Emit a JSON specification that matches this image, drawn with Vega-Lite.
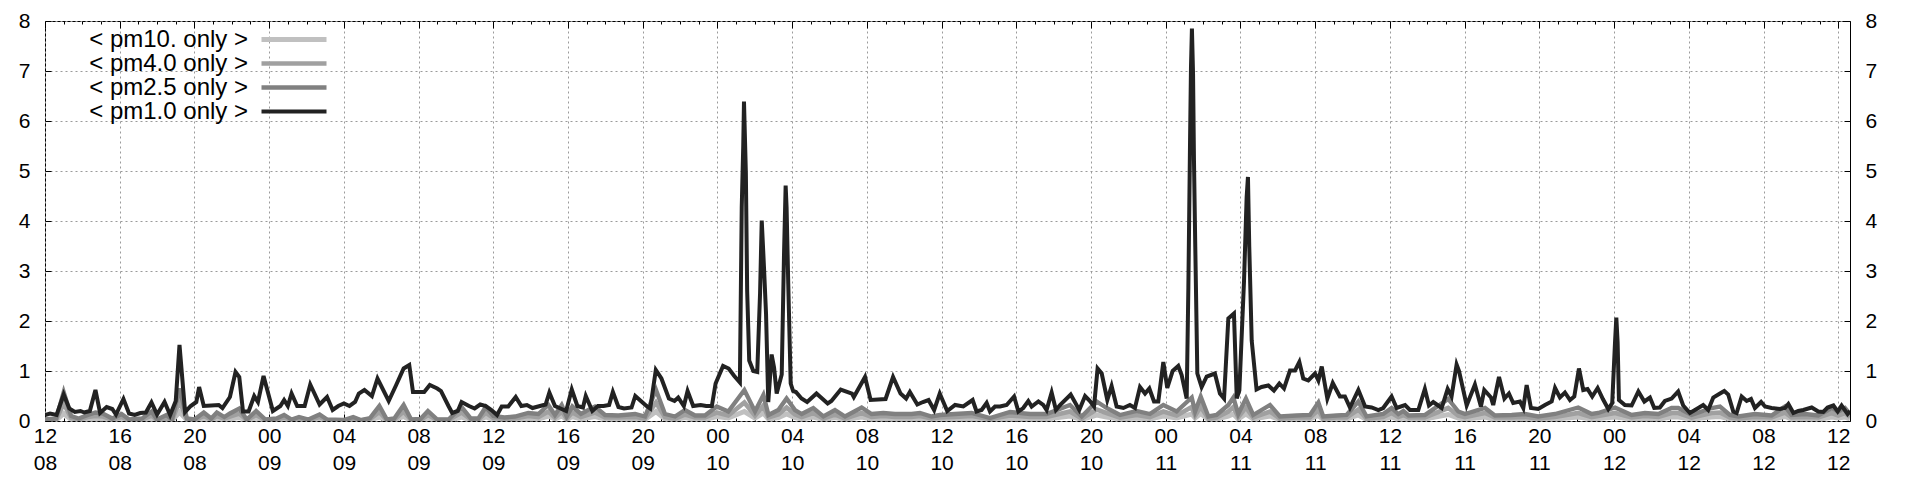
{
"$schema": "https://vega.github.io/schema/vega-lite/v6.json",
"width": 1805, "height": 400,
"autosize": "none",
"padding": {"left": 45, "top": 21, "right": 70, "bottom": 59},
"background": "white",
"config": {"view": {"stroke": "black", "strokeWidth": 1}, "font": "Liberation Sans"},
"data": {"values": [
{"h":0,"a":0.12},{"h":0.27,"a":0.15},{"h":0.62,"a":0.12},{"h":1.0,"a":0.53},{"h":1.3,"a":0.25},{"h":1.6,"a":0.18},{"h":1.9,"a":0.2},{"h":2.1,"a":0.17},{"h":2.4,"a":0.2},{"h":2.7,"a":0.62},{"h":2.95,"a":0.16},{"h":3.3,"a":0.28},{"h":3.6,"a":0.24},{"h":3.8,"a":0.13},{"h":4.2,"a":0.44},{"h":4.5,"a":0.15},{"h":4.8,"a":0.12},{"h":5.1,"a":0.16},{"h":5.4,"a":0.17},{"h":5.7,"a":0.37},{"h":6.0,"a":0.13},{"h":6.4,"a":0.38},{"h":6.7,"a":0.12},{"h":7.0,"a":0.4},{"h":7.2,"a":1.52},{"h":7.5,"a":0.18},{"h":7.8,"a":0.3},{"h":8.1,"a":0.38},{"h":8.25,"a":0.68},{"h":8.5,"a":0.3},{"h":8.9,"a":0.31},{"h":9.3,"a":0.32},{"h":9.5,"a":0.26},{"h":9.9,"a":0.48},{"h":10.2,"a":0.98},{"h":10.4,"a":0.88},{"h":10.6,"a":0.19},{"h":10.9,"a":0.19},{"h":11.2,"a":0.5},{"h":11.4,"a":0.38},{"h":11.7,"a":0.9},{"h":12.2,"a":0.2},{"h":12.6,"a":0.3},{"h":12.8,"a":0.42},{"h":13.0,"a":0.3},{"h":13.2,"a":0.55},{"h":13.5,"a":0.3},{"h":13.9,"a":0.3},{"h":14.2,"a":0.73},{"h":14.7,"a":0.33},{"h":15.1,"a":0.48},{"h":15.4,"a":0.22},{"h":15.7,"a":0.3},{"h":16.0,"a":0.35},{"h":16.3,"a":0.3},{"h":16.6,"a":0.38},{"h":16.8,"a":0.55},{"h":17.1,"a":0.62},{"h":17.5,"a":0.5},{"h":17.8,"a":0.85},{"h":18.4,"a":0.4},{"h":18.8,"a":0.72},{"h":19.2,"a":1.05},{"h":19.5,"a":1.12},{"h":19.7,"a":0.58},{"h":20.0,"a":0.58},{"h":20.3,"a":0.58},{"h":20.6,"a":0.72},{"h":21.0,"a":0.65},{"h":21.2,"a":0.6},{"h":21.6,"a":0.3},{"h":21.8,"a":0.16},{"h":22.1,"a":0.2},{"h":22.3,"a":0.38},{"h":22.7,"a":0.3},{"h":23.0,"a":0.25},{"h":23.3,"a":0.33},{"h":23.6,"a":0.3},{"h":23.9,"a":0.22},{"h":24.2,"a":0.12},
{"h":24.45,"a":0.29},{"h":24.8,"a":0.29},{"h":25.2,"a":0.48},{"h":25.5,"a":0.3},{"h":25.8,"a":0.32},{"h":26.1,"a":0.26},{"h":26.5,"a":0.3},{"h":26.8,"a":0.33},{"h":27.0,"a":0.57},{"h":27.3,"a":0.3},{"h":27.6,"a":0.25},{"h":27.9,"a":0.2},{"h":28.2,"a":0.63},{"h":28.5,"a":0.3},{"h":28.8,"a":0.27},{"h":28.95,"a":0.5},{"h":29.3,"a":0.2},{"h":29.6,"a":0.3},{"h":29.9,"a":0.3},{"h":30.2,"a":0.32},{"h":30.4,"a":0.58},{"h":30.7,"a":0.28},{"h":31.0,"a":0.25},{"h":31.4,"a":0.27},{"h":31.6,"a":0.5},{"h":31.9,"a":0.4},{"h":32.2,"a":0.3},{"h":32.4,"a":0.25},{"h":32.7,"a":1.02},{"h":33.0,"a":0.85},{"h":33.4,"a":0.45},{"h":33.7,"a":0.4},{"h":33.9,"a":0.47},{"h":34.2,"a":0.3},{"h":34.4,"a":0.6},{"h":34.7,"a":0.3},{"h":35.1,"a":0.32},{"h":35.4,"a":0.3},{"h":35.7,"a":0.3},{"h":35.9,"a":0.75},{"h":36.3,"a":1.1},{"h":36.6,"a":1.05},{"h":36.9,"a":0.9},{"h":37.2,"a":0.77},
{"h":37.3,"a":4.28},{"h":37.38,"a":5.5},{"h":37.42,"a":6.39},{"h":37.52,"a":4.97},{"h":37.59,"a":2.6},{"h":37.7,"a":1.21},{"h":37.92,"a":1.0},{"h":38.13,"a":0.98},{"h":38.28,"a":2.55},{"h":38.37,"a":4.01},{"h":38.49,"a":3.08},{"h":38.6,"a":2.15},{"h":38.72,"a":0.38},{"h":38.9,"a":1.33},{"h":39.03,"a":1.07},{"h":39.17,"a":0.55},{"h":39.44,"a":0.93},{"h":39.56,"a":3.28},{"h":39.65,"a":4.71},{"h":39.7,"a":4.28},{"h":39.79,"a":2.74},{"h":39.92,"a":0.75},
{"h":40.05,"a":0.6},{"h":40.2,"a":0.58},{"h":40.5,"a":0.45},{"h":40.8,"a":0.38},{"h":41.3,"a":0.55},{"h":41.9,"a":0.35},{"h":42.1,"a":0.4},{"h":42.6,"a":0.63},{"h":43.2,"a":0.55},{"h":43.3,"a":0.48},{"h":43.9,"a":0.88},{"h":44.2,"a":0.42},{"h":44.6,"a":0.43},{"h":45.0,"a":0.44},{"h":45.4,"a":0.88},{"h":45.8,"a":0.55},{"h":46.1,"a":0.45},{"h":46.3,"a":0.58},{"h":46.7,"a":0.33},{"h":47.0,"a":0.38},{"h":47.3,"a":0.42},{"h":47.6,"a":0.22},{"h":47.9,"a":0.55},{"h":48.3,"a":0.2},
{"h":48.72,"a":0.32},{"h":49.16,"a":0.29},{"h":49.66,"a":0.42},{"h":49.87,"a":0.19},{"h":50.14,"a":0.22},{"h":50.41,"a":0.36},{"h":50.59,"a":0.19},{"h":50.86,"a":0.29},{"h":51.13,"a":0.29},{"h":51.48,"a":0.32},{"h":51.88,"a":0.49},{"h":52.11,"a":0.19},{"h":52.37,"a":0.26},{"h":52.64,"a":0.4},{"h":52.82,"a":0.29},{"h":53.18,"a":0.39},{"h":53.44,"a":0.32},{"h":53.62,"a":0.22},{"h":53.89,"a":0.57},{"h":54.12,"a":0.22},{"h":54.34,"a":0.32},{"h":54.91,"a":0.53},{"h":55.37,"a":0.22},{"h":55.68,"a":0.5},{"h":55.94,"a":0.4},{"h":56.16,"a":0.29},{"h":56.35,"a":1.05},{"h":56.57,"a":0.95},{"h":56.87,"a":0.42},{"h":57.1,"a":0.7},{"h":57.37,"a":0.29},{"h":57.73,"a":0.26},{"h":58.08,"a":0.32},{"h":58.35,"a":0.26},{"h":58.62,"a":0.68},{"h":58.89,"a":0.55},{"h":59.12,"a":0.65},{"h":59.37,"a":0.39},{"h":59.6,"a":0.39},{"h":59.87,"a":1.18},{"h":60.08,"a":0.66},{"h":60.37,"a":1.0},{"h":60.67,"a":1.1},{"h":60.85,"a":0.92},{"h":61.12,"a":0.45},
{"h":61.21,"a":2.68},{"h":61.3,"a":5.61},{"h":61.35,"a":7.08},{"h":61.4,"a":7.85},{"h":61.46,"a":6.95},{"h":61.51,"a":5.21},{"h":61.58,"a":3.48},{"h":61.69,"a":0.95},{"h":61.92,"a":0.68},{"h":62.19,"a":0.89},{"h":62.63,"a":0.95},{"h":62.9,"a":0.55},{"h":63.12,"a":0.45},{"h":63.35,"a":2.05},{"h":63.65,"a":2.15},{"h":63.8,"a":0.45},{"h":63.94,"a":0.61},{"h":64.19,"a":2.81},{"h":64.33,"a":4.48},{"h":64.4,"a":4.88},{"h":64.47,"a":3.48},{"h":64.6,"a":1.61},{"h":64.86,"a":0.63},{"h":65.13,"a":0.68},{"h":65.49,"a":0.71},{"h":65.79,"a":0.61},{"h":66.08,"a":0.75},{"h":66.33,"a":0.65},{"h":66.65,"a":1.01},{"h":66.92,"a":1.01},{"h":67.15,"a":1.18},{"h":67.36,"a":0.85},{"h":67.63,"a":0.81},{"h":67.99,"a":0.95},{"h":68.17,"a":0.81},{"h":68.35,"a":1.09},{"h":68.65,"a":0.45},{"h":68.94,"a":0.76},{"h":69.32,"a":0.49},{"h":69.59,"a":0.49},{"h":69.86,"a":0.27},{"h":70.31,"a":0.62},{"h":70.67,"a":0.29},{"h":71.02,"a":0.27},{"h":71.38,"a":0.22},{"h":71.64,"a":0.26},{"h":72.09,"a":0.49},{"h":72.36,"a":0.26},{"h":72.81,"a":0.32},
{"h":73.07,"a":0.22},{"h":73.52,"a":0.22},{"h":73.87,"a":0.64},{"h":74.09,"a":0.31},{"h":74.32,"a":0.38},{"h":74.77,"a":0.26},{"h":75.09,"a":0.64},{"h":75.3,"a":0.49},{"h":75.57,"a":1.13},{"h":75.7,"a":1.0},{"h":76.11,"a":0.31},{"h":76.55,"a":0.73},{"h":76.87,"a":0.29},{"h":77.05,"a":0.62},{"h":77.41,"a":0.47},{"h":77.53,"a":0.32},{"h":77.84,"a":0.88},{"h":78.13,"a":0.45},{"h":78.37,"a":0.55},{"h":78.6,"a":0.36},{"h":78.96,"a":0.39},{"h":79.14,"a":0.26},{"h":79.32,"a":0.72},{"h":79.55,"a":0.26},{"h":79.94,"a":0.24},{"h":80.3,"a":0.32},{"h":80.66,"a":0.39},{"h":80.84,"a":0.66},{"h":81.1,"a":0.47},{"h":81.37,"a":0.57},{"h":81.64,"a":0.42},{"h":81.87,"a":0.49},{"h":82.12,"a":1.05},{"h":82.35,"a":0.62},{"h":82.58,"a":0.64},{"h":82.83,"a":0.49},{"h":83.12,"a":0.66},{"h":83.4,"a":0.44},{"h":83.69,"a":0.24},{"h":83.9,"a":0.36},{"h":84.05,"a":1.57},{"h":84.12,"a":2.07},{"h":84.19,"a":1.57},{"h":84.26,"a":0.42},{"h":84.58,"a":0.32},{"h":84.94,"a":0.31},{"h":85.3,"a":0.59},{"h":85.62,"a":0.39},{"h":85.92,"a":0.47},{"h":86.15,"a":0.26},{"h":86.45,"a":0.27},{"h":86.72,"a":0.4},{"h":87.08,"a":0.45},{"h":87.43,"a":0.59},{"h":87.7,"a":0.31},{"h":88.06,"a":0.16},{"h":88.51,"a":0.26},{"h":88.77,"a":0.32},{"h":89.04,"a":0.22},{"h":89.31,"a":0.47},{"h":89.67,"a":0.55},{"h":89.9,"a":0.6},{"h":90.11,"a":0.53},{"h":90.38,"a":0.19},{"h":90.56,"a":0.16},{"h":90.83,"a":0.49},{"h":91.1,"a":0.4},{"h":91.33,"a":0.44},{"h":91.54,"a":0.26},{"h":91.87,"a":0.38},{"h":92.08,"a":0.29},{"h":92.43,"a":0.26},{"h":92.88,"a":0.24},{"h":93.15,"a":0.26},{"h":93.33,"a":0.34},{"h":93.6,"a":0.16},{"h":93.86,"a":0.2},{"h":94.13,"a":0.22},{"h":94.58,"a":0.27},{"h":94.93,"a":0.19},{"h":95.2,"a":0.18},{"h":95.43,"a":0.27},{"h":95.74,"a":0.31},{"h":95.97,"a":0.19},{"h":96.18,"a":0.31},{"h":96.5,"a":0.14},{"h":96.63,"a":0.2},
{"h":0,"b":0.03,"c":0.02,"d":0.01},{"h":0.6,"b":0.05,"c":0.03,"d":0.02},{"h":1.0,"b":0.58,"c":0.35,"d":0.15},{"h":1.4,"b":0.1,"c":0.06,"d":0.03},{"h":1.8,"b":0.05,"c":0.03,"d":0.02},{"h":2.3,"b":0.12,"c":0.08,"d":0.04},{"h":2.7,"b":0.17,"c":0.1,"d":0.05},{"h":3.1,"b":0.15,"c":0.09,"d":0.04},{"h":3.6,"b":0.05,"c":0.03,"d":0.02},{"h":4.1,"b":0.14,"c":0.08,"d":0.04},{"h":4.5,"b":0.03,"c":0.02,"d":0.01},{"h":5.2,"b":0.05,"c":0.03,"d":0.02},{"h":5.7,"b":0.19,"c":0.11,"d":0.05},{"h":6.0,"b":0.03,"c":0.02,"d":0.01},{"h":6.5,"b":0.12,"c":0.07,"d":0.03},{"h":6.8,"b":0.03,"c":0.02,"d":0.01},{"h":7.2,"b":0.65,"c":0.4,"d":0.18},{"h":7.6,"b":0.05,"c":0.03,"d":0.02},{"h":8.0,"b":0.03,"c":0.02,"d":0.01},{"h":8.5,"b":0.17,"c":0.1,"d":0.05},{"h":8.9,"b":0.05,"c":0.03,"d":0.02},{"h":9.2,"b":0.17,"c":0.1,"d":0.05},{"h":9.6,"b":0.08,"c":0.05,"d":0.02},{"h":9.9,"b":0.15,"c":0.09,"d":0.04},{"h":10.4,"b":0.25,"c":0.15,"d":0.07},{"h":10.8,"b":0.03,"c":0.02,"d":0.01},{"h":11.3,"b":0.2,"c":0.12,"d":0.06},{"h":11.8,"b":0.03,"c":0.02,"d":0.01},{"h":12.4,"b":0.05,"c":0.03,"d":0.02},{"h":12.8,"b":0.12,"c":0.07,"d":0.03},{"h":13.2,"b":0.03,"c":0.02,"d":0.01},{"h":13.6,"b":0.08,"c":0.05,"d":0.02},{"h":14.1,"b":0.03,"c":0.02,"d":0.01},{"h":14.7,"b":0.13,"c":0.08,"d":0.04},{"h":15.1,"b":0.03,"c":0.02,"d":0.01},{"h":16.0,"b":0.02,"c":0.01,"d":0.01},{"h":16.5,"b":0.08,"c":0.05,"d":0.02},{"h":16.9,"b":0.02,"c":0.01,"d":0.01},{"h":17.4,"b":0.06,"c":0.04,"d":0.02},{"h":17.9,"b":0.3,"c":0.18,"d":0.08},{"h":18.3,"b":0.03,"c":0.02,"d":0.01},{"h":18.7,"b":0.05,"c":0.03,"d":0.02},{"h":19.2,"b":0.32,"c":0.19,"d":0.09},{"h":19.6,"b":0.03,"c":0.02,"d":0.01},{"h":20.1,"b":0.04,"c":0.02,"d":0.01},{"h":20.5,"b":0.2,"c":0.12,"d":0.06},{"h":21.0,"b":0.03,"c":0.02,"d":0.01},{"h":21.6,"b":0.03,"c":0.02,"d":0.01},{"h":22.3,"b":0.28,"c":0.17,"d":0.08},{"h":22.8,"b":0.05,"c":0.03,"d":0.02},{"h":23.2,"b":0.05,"c":0.03,"d":0.02},{"h":23.6,"b":0.28,"c":0.17,"d":0.08},{"h":24.0,"b":0.1,"c":0.06,"d":0.03},
{"h":24.6,"b":0.07,"c":0.04,"d":0.02},{"h":25.16,"b":0.09,"c":0.05,"d":0.03},{"h":25.87,"b":0.16,"c":0.1,"d":0.05},{"h":26.41,"b":0.14,"c":0.08,"d":0.04},{"h":26.95,"b":0.32,"c":0.19,"d":0.1},{"h":27.3,"b":0.12,"c":0.07,"d":0.04},{"h":27.66,"b":0.32,"c":0.19,"d":0.1},{"h":27.93,"b":0.09,"c":0.05,"d":0.03},{"h":28.23,"b":0.29,"c":0.17,"d":0.09},{"h":28.69,"b":0.14,"c":0.08,"d":0.04},{"h":29.44,"b":0.29,"c":0.17,"d":0.09},{"h":29.98,"b":0.12,"c":0.07,"d":0.04},{"h":30.69,"b":0.11,"c":0.07,"d":0.03},{"h":31.59,"b":0.14,"c":0.08,"d":0.04},{"h":32.12,"b":0.09,"c":0.05,"d":0.03},{"h":32.71,"b":0.62,"c":0.37,"d":0.19},{"h":33.19,"b":0.14,"c":0.08,"d":0.04},{"h":33.73,"b":0.09,"c":0.05,"d":0.03},{"h":34.26,"b":0.22,"c":0.13,"d":0.07},{"h":34.8,"b":0.11,"c":0.07,"d":0.03},{"h":35.33,"b":0.11,"c":0.07,"d":0.03},{"h":35.96,"b":0.29,"c":0.17,"d":0.09},{"h":36.58,"b":0.19,"c":0.11,"d":0.06},{"h":37.44,"b":0.62,"c":0.37,"d":0.19},{"h":38.01,"b":0.19,"c":0.11,"d":0.06},{"h":38.46,"b":0.52,"c":0.31,"d":0.16},{"h":38.73,"b":0.12,"c":0.07,"d":0.04},{"h":39.26,"b":0.22,"c":0.13,"d":0.07},{"h":39.7,"b":0.45,"c":0.27,"d":0.14},{"h":40.15,"b":0.22,"c":0.13,"d":0.07},{"h":40.51,"b":0.14,"c":0.08,"d":0.04},{"h":41.13,"b":0.26,"c":0.16,"d":0.08},{"h":41.67,"b":0.09,"c":0.05,"d":0.03},{"h":42.29,"b":0.22,"c":0.13,"d":0.07},{"h":42.83,"b":0.09,"c":0.05,"d":0.03},{"h":43.72,"b":0.27,"c":0.16,"d":0.08},{"h":44.25,"b":0.14,"c":0.08,"d":0.04},{"h":44.88,"b":0.16,"c":0.1,"d":0.05},{"h":45.5,"b":0.14,"c":0.08,"d":0.04},{"h":46.39,"b":0.14,"c":0.08,"d":0.04},{"h":46.84,"b":0.16,"c":0.1,"d":0.05},{"h":47.46,"b":0.09,"c":0.05,"d":0.03},{"h":47.91,"b":0.12,"c":0.07,"d":0.04},{"h":48.71,"b":0.14,"c":0.08,"d":0.04},
{"h":49.61,"b":0.16,"c":0.1,"d":0.05},{"h":50.59,"b":0.06,"c":0.04,"d":0.02},{"h":51.66,"b":0.18,"c":0.11,"d":0.05},{"h":52.73,"b":0.14,"c":0.08,"d":0.04},{"h":53.62,"b":0.14,"c":0.08,"d":0.04},{"h":54.87,"b":0.32,"c":0.19,"d":0.1},{"h":55.5,"b":0.09,"c":0.05,"d":0.03},{"h":56.3,"b":0.39,"c":0.23,"d":0.12},{"h":56.83,"b":0.26,"c":0.16,"d":0.08},{"h":57.55,"b":0.12,"c":0.07,"d":0.04},{"h":58.44,"b":0.2,"c":0.12,"d":0.06},{"h":59.15,"b":0.14,"c":0.08,"d":0.04},{"h":59.87,"b":0.32,"c":0.19,"d":0.1},{"h":60.58,"b":0.19,"c":0.11,"d":0.06},{"h":61.39,"b":0.47,"c":0.28,"d":0.14},{"h":61.57,"b":0.19,"c":0.11,"d":0.06},{"h":61.87,"b":0.49,"c":0.29,"d":0.15},{"h":62.28,"b":0.09,"c":0.05,"d":0.03},{"h":62.72,"b":0.12,"c":0.07,"d":0.04},{"h":63.35,"b":0.32,"c":0.19,"d":0.1},{"h":63.62,"b":0.47,"c":0.28,"d":0.14},{"h":63.88,"b":0.14,"c":0.08,"d":0.04},{"h":64.29,"b":0.45,"c":0.27,"d":0.14},{"h":64.68,"b":0.12,"c":0.07,"d":0.04},{"h":65.58,"b":0.32,"c":0.19,"d":0.1},{"h":66.11,"b":0.09,"c":0.05,"d":0.03},{"h":67.0,"b":0.11,"c":0.07,"d":0.03},{"h":67.72,"b":0.12,"c":0.07,"d":0.04},{"h":68.17,"b":0.37,"c":0.22,"d":0.11},{"h":68.43,"b":0.09,"c":0.05,"d":0.03},{"h":69.14,"b":0.11,"c":0.07,"d":0.03},{"h":69.68,"b":0.12,"c":0.07,"d":0.04},{"h":70.31,"b":0.39,"c":0.23,"d":0.12},{"h":70.75,"b":0.09,"c":0.05,"d":0.03},{"h":71.64,"b":0.14,"c":0.08,"d":0.04},{"h":72.09,"b":0.26,"c":0.16,"d":0.08},{"h":72.45,"b":0.14,"c":0.08,"d":0.04},{"h":72.72,"b":0.2,"c":0.12,"d":0.06},
{"h":73.0,"b":0.11,"c":0.07,"d":0.03},{"h":73.87,"b":0.12,"c":0.07,"d":0.04},{"h":75.12,"b":0.44,"c":0.26,"d":0.13},{"h":75.66,"b":0.19,"c":0.11,"d":0.06},{"h":76.02,"b":0.14,"c":0.08,"d":0.04},{"h":77.09,"b":0.26,"c":0.16,"d":0.08},{"h":77.62,"b":0.11,"c":0.07,"d":0.03},{"h":78.52,"b":0.12,"c":0.07,"d":0.04},{"h":79.23,"b":0.14,"c":0.08,"d":0.04},{"h":79.94,"b":0.09,"c":0.05,"d":0.03},{"h":80.84,"b":0.14,"c":0.08,"d":0.04},{"h":82.08,"b":0.27,"c":0.16,"d":0.08},{"h":82.8,"b":0.14,"c":0.08,"d":0.04},{"h":83.15,"b":0.16,"c":0.1,"d":0.05},{"h":84.05,"b":0.27,"c":0.16,"d":0.08},{"h":84.94,"b":0.12,"c":0.07,"d":0.04},{"h":85.65,"b":0.16,"c":0.1,"d":0.05},{"h":86.37,"b":0.14,"c":0.08,"d":0.04},{"h":87.08,"b":0.26,"c":0.16,"d":0.08},{"h":87.44,"b":0.26,"c":0.16,"d":0.08},{"h":88.15,"b":0.12,"c":0.07,"d":0.04},{"h":89.22,"b":0.26,"c":0.16,"d":0.08},{"h":89.67,"b":0.29,"c":0.17,"d":0.09},{"h":90.2,"b":0.12,"c":0.07,"d":0.04},{"h":90.65,"b":0.09,"c":0.05,"d":0.03},{"h":91.54,"b":0.14,"c":0.08,"d":0.04},{"h":92.43,"b":0.11,"c":0.07,"d":0.03},{"h":93.15,"b":0.29,"c":0.17,"d":0.09},{"h":93.5,"b":0.12,"c":0.07,"d":0.04},{"h":94.22,"b":0.14,"c":0.08,"d":0.04},{"h":94.93,"b":0.11,"c":0.07,"d":0.03},{"h":95.65,"b":0.26,"c":0.16,"d":0.08},{"h":96.0,"b":0.19,"c":0.11,"d":0.06},{"h":96.36,"b":0.26,"c":0.16,"d":0.08},{"h":96.63,"b":0.14,"c":0.08,"d":0.04}
]},
"transform": [{"fold": ["d","c","b","a"], "as": ["k","v"]}, {"filter": "isValid(datum.v)"}],
"encoding": {
  "x": {"field":"h","type":"quantitative","scale":{"domain":[0,96.63],"nice":false,"zero":false},"axis":null},
  "y": {"field":"v","type":"quantitative","scale":{"domain":[0,8],"nice":false,"zero":true},"axis":null},
  "color": {"field":"k","type":"nominal","scale":{"domain":["d","c","b","a"],"range":["#c0c0c0","#a0a0a0","#808080","#222222"]},
    "legend":{"title":null,"orient":"none","legendX":237,"legendY":6.5,"padding":0,"symbolType":"M-6.5,0H6.5","symbolSize":100,"labelAlign":"right","labelOffset":-58,"labelFontSize":24,"labelFont":"Liberation Sans","labelColor":"black","rowPadding":0,"labelExpr":"datum.value=='d'?'< pm10. only >':datum.value=='c'?'< pm4.0 only >':datum.value=='b'?'< pm2.5 only >':'< pm1.0 only >'"}},
  "strokeWidth": {"field":"k","type":"nominal","scale":{"domain":["d","c","b","a"],"range":[5,4,3,1.4]},
    "legend":{"title":null,"orient":"none","legendX":237,"legendY":6.5,"padding":0,"symbolType":"M-6.5,0H6.5","symbolSize":100,"labelAlign":"right","labelOffset":-58,"labelFontSize":24,"labelFont":"Liberation Sans","labelColor":"black","rowPadding":0,"labelExpr":"datum.value=='d'?'< pm10. only >':datum.value=='c'?'< pm4.0 only >':datum.value=='b'?'< pm2.5 only >':'< pm1.0 only >'"}}
},
"layer": [
  {"transform":[{"filter":"datum.k=='d'"}], "mark":{"type":"line","clip":true},
   "encoding":{
     "x":{"field":"h","type":"quantitative","scale":{"domain":[0,96.63],"nice":false,"zero":false},
       "axis":{"orient":"bottom","values":[0,1,2,3,4,5,6,7,8,9,10,11,12,13,14,15,16,17,18,19,20,21,22,23,24,25,26,27,28,29,30,31,32,33,34,35,36,37,38,39,40,41,42,43,44,45,46,47,48,49,50,51,52,53,54,55,56,57,58,59,60,61,62,63,64,65,66,67,68,69,70,71,72,73,74,75,76,77,78,79,80,81,82,83,84,85,86,87,88,89,90,91,92,93,94,95,96],
         "domain":false,"title":null,"grid":true,"gridColor":"#9a9a9a","gridDash":[2,3],"gridWidth":1,
         "gridOpacity":{"condition":{"test":"datum.value % 4 == 0","value":1},"value":0},
         "tickColor":"black","tickWidth":1,"tickSize":{"condition":{"test":"datum.value % 4 == 0","value":-7},"value":-3},
         "labelFont":"Liberation Sans","labelFontSize":21,"labelColor":"black","labelLineHeight":27,"labelPadding":11,
         "labelFlush":false,"labelOverlap":false,"labelBound":false,
         "labelExpr":"datum.value % 4 != 0 ? '' : [((12 + datum.value) % 24 < 10 ? '0' : '') + ((12 + datum.value) % 24), (floor((12 + datum.value) / 24) < 2 ? '0' : '') + (8 + floor((12 + datum.value) / 24))]"}},
     "y":{"field":"v","type":"quantitative","scale":{"domain":[0,8],"nice":false,"zero":true},
       "axis":{"orient":"left","values":[0,1,2,3,4,5,6,7,8],"domain":false,"title":null,"grid":true,"gridColor":"#9a9a9a","gridDash":[2,3],"gridWidth":1,
         "tickColor":"black","tickSize":-6,"labelFont":"Liberation Sans","labelFontSize":21,"labelColor":"black","labelPadding":21,"labelFlush":false,"labelOverlap":false,"labelBound":false}}
   }},
  {"transform":[{"filter":"datum.k=='c'"}], "mark":{"type":"line","clip":true}},
  {"transform":[{"filter":"datum.k=='b'"}], "mark":{"type":"line","clip":true}},
  {"transform":[{"filter":"datum.k=='a'"}], "mark":{"type":"line","clip":true},
   "encoding":{
     "x":{"field":"h","type":"quantitative","scale":{"domain":[0,96.63],"nice":false,"zero":false},
       "axis":{"orient":"top","values":[0,1,2,3,4,5,6,7,8,9,10,11,12,13,14,15,16,17,18,19,20,21,22,23,24,25,26,27,28,29,30,31,32,33,34,35,36,37,38,39,40,41,42,43,44,45,46,47,48,49,50,51,52,53,54,55,56,57,58,59,60,61,62,63,64,65,66,67,68,69,70,71,72,73,74,75,76,77,78,79,80,81,82,83,84,85,86,87,88,89,90,91,92,93,94,95,96],
         "domain":false,"title":null,"grid":false,"labels":false,"tickColor":"black","tickWidth":1,
         "tickSize":{"condition":{"test":"datum.value % 4 == 0","value":-7},"value":-3}}},
     "y":{"field":"v","type":"quantitative","scale":{"domain":[0,8],"nice":false,"zero":true},
       "axis":{"orient":"right","values":[0,1,2,3,4,5,6,7,8],"domain":false,"title":null,"grid":false,
         "tickColor":"black","tickSize":-6,"labelFont":"Liberation Sans","labelFontSize":21,"labelColor":"black","labelPadding":21,"labelFlush":false,"labelOverlap":false,"labelBound":false}}
   }}
],
"resolve": {"axis": {"x":"independent","y":"independent"}}
}
